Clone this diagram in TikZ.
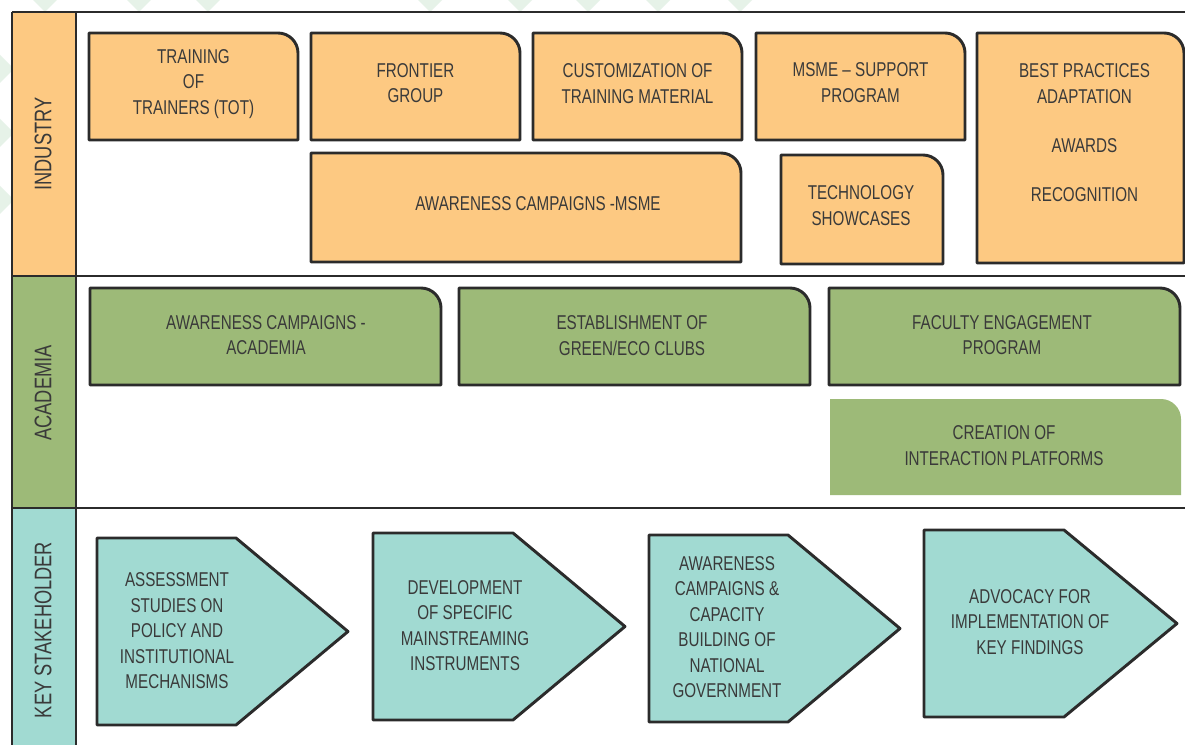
\documentclass[tikz,border=0pt]{standalone}
\usepackage{fontspec}
\setmainfont{Liberation Sans}[FakeStretch=0.76]
\definecolor{org}{HTML}{FDC982}
\definecolor{grn}{HTML}{9DBA78}
\definecolor{tea}{HTML}{A1DAD2}
\definecolor{edge}{HTML}{2B2B2B}
\definecolor{txtc}{HTML}{3A3A3A}
\definecolor{bgd}{HTML}{E6F2E8}
\newcommand\tabbox[5]{% x1 y1 x2 y2 style
  \path[#5] (#1,#4) -- (#1,#2) -- ({#3-20},#2) .. controls ({#3-9},#2) and (#3,{#2+9}) .. (#3,{#2+20}) -- (#3,#4) -- cycle;}
\newcommand\arrowbox[6]{% x1 y1 xr tip y2 style
  \path[#6] (#1,#2) -- (#3,#2) -- (#4,{(#2+#5)/2}) -- (#3,#5) -- (#1,#5) -- cycle;}
\begin{document}
\begin{tikzpicture}[x=0.75pt,y=-0.75pt,
  txt/.style={font=\fontsize{15}{19.1}\selectfont, align=center, text=txtc, inner sep=0pt},
  lbl/.style={font=\fontsize{18}{20}\selectfont, text=txtc, rotate=90, inner sep=0pt},
  bord/.style={draw=edge, line width=2.2pt, line join=round},
  frm/.style={draw=edge, line width=2.2pt},
  orgbox/.style={bord, fill=org},
  grnbox/.style={bord, fill=grn},
  teabox/.style={bord, fill=tea}]
\useasboundingbox (0,0) rectangle (1185,745);
\clip (0,0) rectangle (1185,745);
\fill[white] (0,0) rectangle (1185,745);
% faint background diamonds
\foreach \cx/\cy in {139/-12, 208/-12, 520/-12, 588/-12, 658/-12, 740/-12, 430/-12, 45/-12, -10/69, -10/133, -10/200}{
  \fill[bgd] (\cx,{\cy-24}) -- ({\cx+24},\cy) -- (\cx,{\cy+24}) -- ({\cx-24},\cy) -- cycle;}
\fill[white] (12,12) rectangle (1190,750);
% left column
\fill[org] (12,12) rectangle (76,276);
\fill[grn] (12,276) rectangle (76,508);
\fill[tea] (12,508) rectangle (76,760);
\draw[frm] (12,12) -- (1190,12);
\draw[frm] (12,276) -- (1190,276);
\draw[frm] (12,508) -- (1190,508);
\draw[frm] (12,12) -- (12,760);
\draw[frm] (76,12) -- (76,760);
\node[lbl] (lind) at (43,144) {INDUSTRY};
\node[lbl] (laca) at (43,393) {ACADEMIA};
\node[lbl] (lkey) at (43,630) {KEY STAKEHOLDER};
% industry
\tabbox{89}{33}{298}{140}{orgbox}
\tabbox{311}{33}{520}{140}{orgbox}
\tabbox{533}{33}{742}{140}{orgbox}
\tabbox{756}{33}{965}{140}{orgbox}
\tabbox{977}{33}{1184}{263}{orgbox}
\tabbox{311}{153}{741}{262}{orgbox}
\tabbox{781}{155}{943}{264}{orgbox}
\node[txt] (i1) at (193.5,84) {TRAINING\\OF\\TRAINERS (TOT)};
\node[txt] (i2) at (415.5,83) {FRONTIER\\GROUP};
\node[txt] (i3) at (637.5,83.5) {CUSTOMIZATION OF\\TRAINING MATERIAL};
\node[txt] (i4) at (860.5,82.5) {MSME -- SUPPORT\\PROGRAM};
\node[txt] (i5) at (1084.5,132.5) {BEST PRACTICES\\ADAPTATION\\[17.6pt]AWARDS\\[17.6pt]RECOGNITION};
\node[txt] (i6) at (538,204) {AWARENESS CAMPAIGNS -MSME};
\node[txt] (i7) at (861,205.5) {TECHNOLOGY\\SHOWCASES};
% academia
\tabbox{90}{288}{441}{385}{grnbox}
\tabbox{459}{288}{810}{385}{grnbox}
\tabbox{829}{288}{1180}{385}{grnbox}
\tabbox{830}{399}{1181}{495}{fill=grn}
\node[txt] (a1) at (266,335) {AWARENESS CAMPAIGNS -\\ACADEMIA};
\node[txt] (a2) at (632,335.5) {ESTABLISHMENT OF\\GREEN/ECO CLUBS};
\node[txt] (a3) at (1002,335) {FACULTY ENGAGEMENT\\PROGRAM};
\node[txt] (a4) at (1004,445.5) {CREATION OF\\INTERACTION PLATFORMS};
% key stakeholder
\arrowbox{97}{538}{236}{348}{725}{teabox}
\arrowbox{373}{533}{513}{625}{720}{teabox}
\arrowbox{649}{535}{788}{900}{722}{teabox}
\arrowbox{924}{530}{1064}{1177}{717}{teabox}
\node[txt] (k1) at (177,631) {ASSESSMENT\\STUDIES ON\\POLICY AND\\INSTITUTIONAL\\MECHANISMS};
\node[txt] (k2) at (465,625.5) {DEVELOPMENT\\OF SPECIFIC\\MAINSTREAMING\\INSTRUMENTS};
\node[txt] (k3) at (727,627) {AWARENESS\\CAMPAIGNS \&\\CAPACITY\\BUILDING OF\\NATIONAL\\GOVERNMENT};
\node[txt] (k4) at (1030,622) {ADVOCACY FOR\\IMPLEMENTATION OF\\KEY FINDINGS};
\end{tikzpicture}
\end{document}
